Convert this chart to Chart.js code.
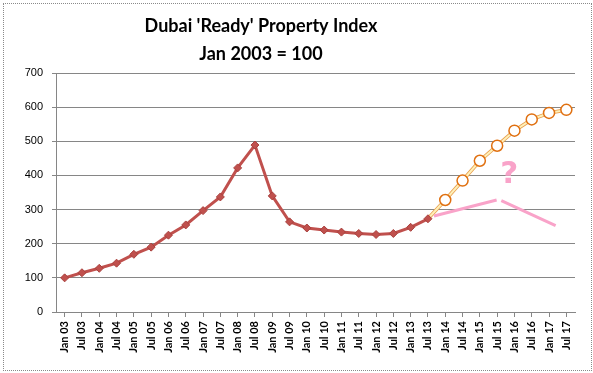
<!DOCTYPE html>
<html>
<head>
<meta charset="utf-8">
<script src="https://cdn.jsdelivr.net/npm/chart.js@4.4.0/dist/chart.umd.min.js"></script>
<style>
  body { margin: 0; background: #fff; }
  #frame { position: absolute; left: 3px; top: 3px; width: 589px; height: 368px; border: 1px dotted #8a8a8a; box-sizing: border-box; }
  #chart { position: absolute; left: 0; top: 0; }
</style>
</head>
<body>
<div id="frame"></div>
<canvas id="chart" width="593" height="373"></canvas>
<script>
const titleLines = ["Dubai 'Ready' Property Index", "Jan 2003 = 100"];

const labels = ['Jan 03','Jul 03','Jan 04','Jul 04','Jan 05','Jul 05','Jan 06','Jul 06',
  'Jan 07','Jul 07','Jan 08','Jul 08','Jan 09','Jul 09','Jan 10','Jul 10','Jan 11','Jul 11',
  'Jan 12','Jul 12','Jan 13','Jul 13','Jan 14','Jul 14','Jan 15','Jul 15','Jan 16','Jul 16',
  'Jan 17','Jul 17'];

// actual index, Jan 03 .. Jul 13
const actual = [100, 115, 128, 143, 169, 190, 225, 255, 297, 337, 422, 489,
  340, 264, 246, 240, 234, 230, 227, 230, 248, 273];

// projected, Jan 14 .. Jul 17
const forecast = [328, 385, 443, 487, 531, 564, 583, 592];

// hand drawn pink "?" scenario (x = category index)
const pinkX = [21.35, 24.97, 25.1, 25.24, 28.38];
const pinkY = [281, 328, null, 326, 253];
const questionMark = { x: 25.7, y: 401, text: '?' };

const yTicks = { min: 0, max: 700, step: 100 };

const projData = labels.map((l, i) => {
  if (i < actual.length - 1) return null;
  if (i === actual.length - 1) return actual[i];
  return forecast[i - actual.length];
});
const projRadius = labels.map((l, i) => i < actual.length ? 0 : 5.5);
const pinkData = pinkX.map((x, i) => ({x: x, y: pinkY[i]}));

const annotate = {
  id: 'annotate',
  afterDraw(chart) {
    const ctx = chart.ctx;
    ctx.save();
    // title
    ctx.fillStyle = '#000';
    ctx.textAlign = 'center';
    ctx.textBaseline = 'alphabetic';
    ctx.font = 'bold 18px Lato';
    ctx.fillText(titleLines[0], 261, 32);
    ctx.fillText(titleLines[1], 261, 60);
    // pink question mark
    const xs = chart.scales.xp, ys = chart.scales.y;
    ctx.fillStyle = '#f9a3c9';
    ctx.textBaseline = 'middle';
    ctx.font = 'bold 31px "DejaVu Sans"';
    ctx.fillText(questionMark.text, xs.getPixelForValue(questionMark.x), ys.getPixelForValue(questionMark.y));
    ctx.restore();
  }
};

new Chart(document.getElementById('chart').getContext('2d'), {
  type: 'line',
  data: {
    labels: labels,
    datasets: [
      {
        label: 'Actual',
        data: actual,
        borderColor: '#c0504d',
        borderWidth: 3,
        pointStyle: 'rectRot',
        pointRadius: 4,
        pointBackgroundColor: '#c0504d',
        pointBorderColor: '#a8403d',
        pointBorderWidth: 1,
        order: 0
      },
      {
        label: 'Scenario',
        data: pinkData,
        xAxisID: 'xp',
        borderColor: '#f9a3c9',
        borderWidth: 3,
        pointRadius: 0,
        spanGaps: false,
        order: 1
      },
      {
        label: 'Projection',
        data: projData,
        borderColor: '#fff0b8',
        borderWidth: 2,
        pointRadius: projRadius,
        pointBackgroundColor: '#fff',
        pointBorderColor: '#e07010',
        pointBorderWidth: 1.5,
        order: 2
      },
      {
        label: 'Projection edge',
        data: projData,
        borderColor: '#e8a050',
        borderWidth: 3.6,
        pointRadius: 0,
        order: 3
      }
    ]
  },
  options: {
    responsive: false,
    animation: false,
    layout: { padding: { left: 0, right: 18, top: 73, bottom: 0 } },
    plugins: {
      legend: { display: false },
      tooltip: { enabled: false }
    },
    scales: {
      x: {
        type: 'category',
        offset: true,
        grid: { drawOnChartArea: false, color: '#868686', tickLength: 5 },
        border: { color: '#868686' },
        ticks: {
          autoSkip: false,
          minRotation: 90,
          maxRotation: 90,
          padding: 4,
          color: '#000',
          font: { family: 'Lato', weight: 'bold', size: 11 }
        },
        afterFit(scale) { scale.height = 61; }
      },
      xp: {
        type: 'linear',
        display: false,
        min: -0.5,
        max: labels.length - 0.5
      },
      y: {
        min: yTicks.min,
        max: yTicks.max,
        grid: { color: '#868686', tickLength: 4 },
        border: { color: '#868686' },
        ticks: {
          stepSize: yTicks.step,
          padding: 9,
          color: '#000',
          font: { family: 'Liberation Sans', size: 11 }
        },
        afterFit(scale) { scale.width = 56; }
      }
    }
  },
  plugins: [annotate]
});
</script>
</body>
</html>
